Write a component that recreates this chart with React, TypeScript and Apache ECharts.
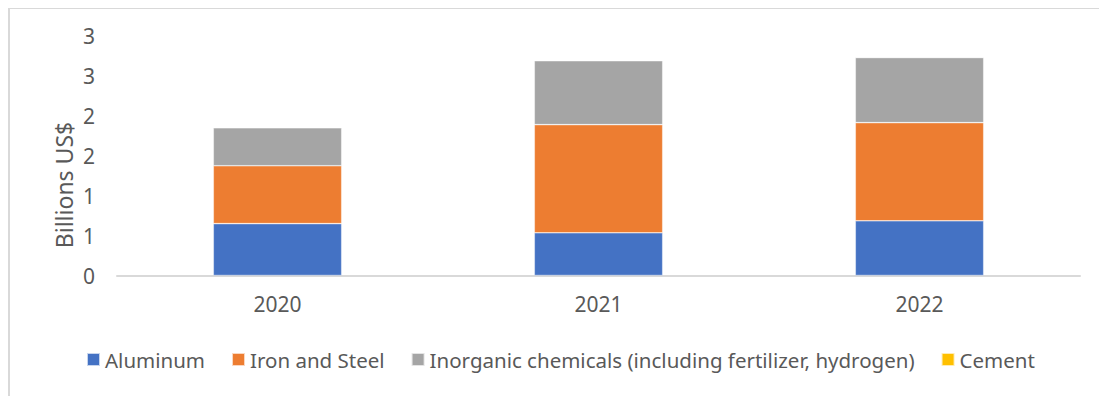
import React, { useEffect, useRef } from "react";
import * as echarts from "echarts";

const years = ["2020", "2021", "2022"];
const aluminum = [0.65, 0.535, 0.685];
const ironSteel = [0.725, 1.355, 1.23];
const inorganic = [0.475, 0.8, 0.815];
const cement = [0.005, 0.008, 0.005];

const seriesNames = [
  "Aluminum",
  "Iron and Steel",
  "Inorganic chemicals (including fertilizer, hydrogen)",
  "Cement",
];
const seriesColors = ["#4472C4", "#ED7D31", "#A5A5A5", "#FFC000"];
const seriesValues = [aluminum, ironSteel, inorganic, cement];

const FONT = "'Noto Sans', sans-serif";
const TEXT = "#595959";

export default function App() {
  const ref = useRef<HTMLDivElement>(null);

  useEffect(() => {
    document.documentElement.style.overflow = "hidden";
    if (!ref.current) return;
    const chart = echarts.init(ref.current, undefined, { renderer: "svg" });
    chart.setOption({
      animation: false,
      backgroundColor: "#ffffff",
      textStyle: { fontFamily: FONT, color: TEXT },
      grid: { left: 107, right: 19, top: 27, bottom: 112.5 },
      legend: {
        left: 71,
        top: 335,
        itemWidth: 13,
        itemHeight: 13,
        itemGap: 26,
        icon: "rect",
        textStyle: { fontFamily: FONT, fontSize: 20.5, color: TEXT },
        data: seriesNames,
      },
      xAxis: {
        type: "category",
        data: years,
        axisLine: { lineStyle: { color: "#d9d9d9", width: 2 } },
        axisTick: { show: false },
        axisLabel: { fontFamily: FONT, fontSize: 21, color: TEXT, margin: 18 },
      },
      yAxis: {
        type: "value",
        min: 0,
        max: 3,
        interval: 0.5,
        splitLine: { show: false },
        axisLine: { show: false },
        axisTick: { show: false },
        axisLabel: {
          fontFamily: FONT,
          fontSize: 21,
          color: TEXT,
          margin: 22,
          formatter: (v: number) => String(Math.round(v)),
        },
      },
      graphic: [
        {
          type: "text",
          x: 54,
          y: 176,
          rotation: Math.PI / 2,
          style: {
            text: "Billions US$",
            fontFamily: FONT,
            fontSize: 23,
            fill: TEXT,
            align: "center",
            verticalAlign: "middle",
          },
        },
      ],
      series: seriesNames.map((name, i) => ({
        name,
        type: "bar",
        stack: "total",
        barWidth: "40%",
        data: seriesValues[i],
        itemStyle: {
          color: seriesColors[i],
          borderColor: "rgba(255,255,255,0.7)",
          borderWidth: 0.6,
        },
      })),
    });
    return () => chart.dispose();
  }, []);

  return (
    <div
      style={{
        position: "absolute",
        left: 8,
        top: 8,
        width: 1100,
        height: 400,
        borderTop: "1px solid #d9d9d9",
        borderLeft: "2px solid #d9d9d9",
        boxSizing: "border-box",
        overflow: "hidden",
      }}
    >
      <div ref={ref} style={{ width: 1089, height: 379 }} />
    </div>
  );
}
